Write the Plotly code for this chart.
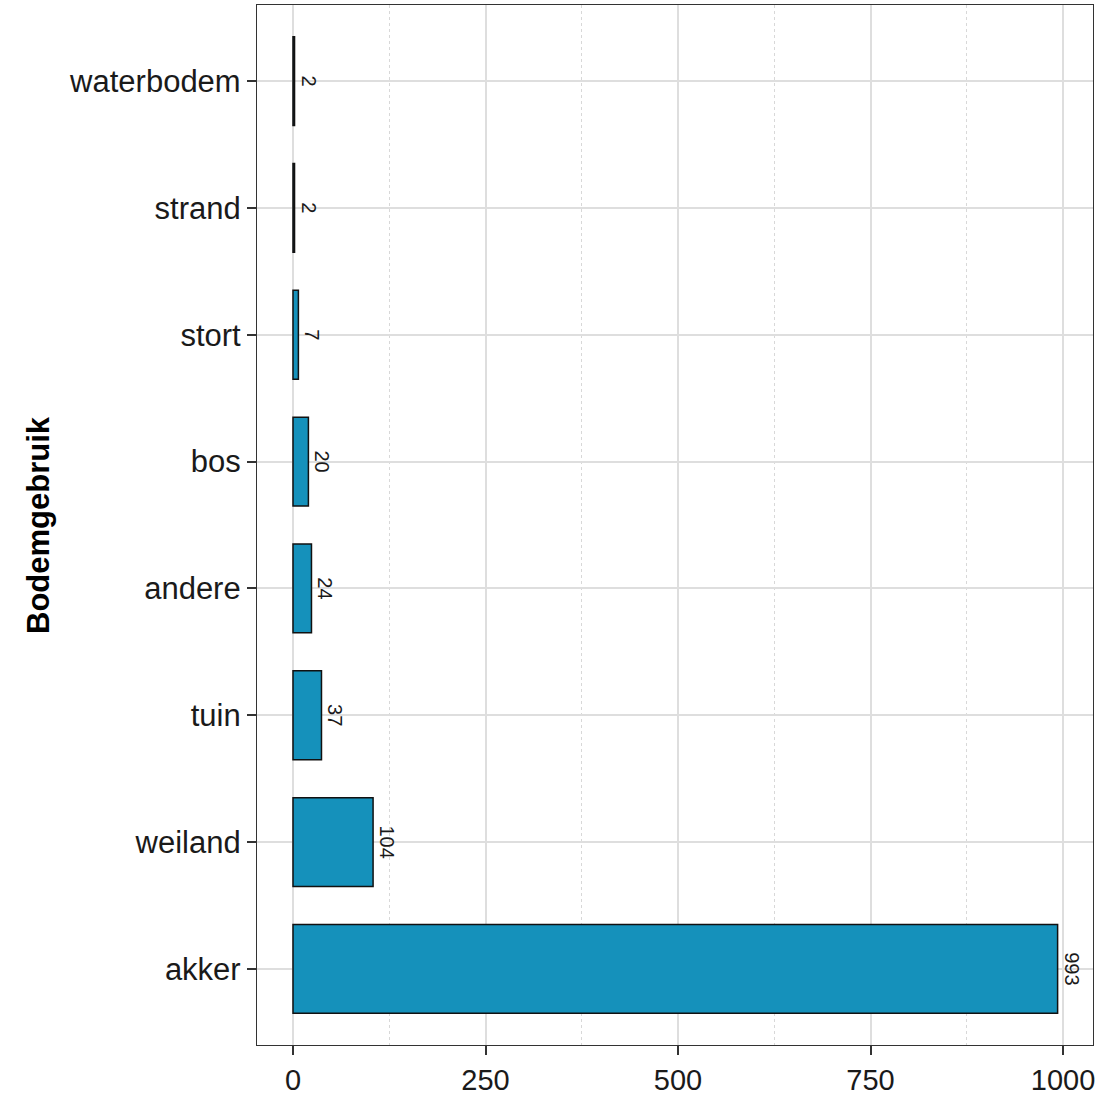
import plotly.graph_objects as go

categories = ["akker", "weiland", "tuin", "andere", "bos", "stort", "strand", "waterbodem"]
values = [993, 104, 37, 24, 20, 7, 2, 2]
x_ticks = [0, 250, 500, 750, 1000]
y_title = "Bodemgebruik"

FONT = "Liberation Sans, Arial, Helvetica, sans-serif"

fig = go.Figure()
fig.add_trace(go.Bar(
    x=values,
    y=categories,
    orientation="h",
    width=0.7,
    marker=dict(color="#1591BB", line=dict(color="#111111", width=1.5)),
    text=[str(v) for v in values],
    textposition="outside",
    textangle=90,
    constraintext="none",
    cliponaxis=False,
    textfont=dict(family=FONT, size=20, color="#1a1a1a"),
    hoverinfo="skip",
))

fig.update_layout(
    width=1104,
    height=1095,
    margin=dict(l=257, r=11, t=5, b=50, autoexpand=False),
    paper_bgcolor="white",
    plot_bgcolor="white",
    showlegend=False,
    font=dict(family=FONT, color="#1a1a1a"),
)

fig.update_xaxes(
    automargin=False,
    range=[-46.75, 1038.96],
    tickvals=x_ticks,
    ticktext=[str(t) for t in x_ticks],
    tickfont=dict(family=FONT, size=29, color="#1a1a1a"),
    ticks="outside", ticklen=9, tickwidth=1.5, tickcolor="#333333",
    showgrid=True, gridcolor="#DEDEDE", gridwidth=2,
    minor=dict(tickvals=[125, 375, 625, 875], showgrid=True, griddash="dot",
               gridcolor="#D8D8D8", gridwidth=1, ticks=""),
    zeroline=False,
    showline=True, linecolor="#333333", linewidth=1.2, mirror=True,
)

fig.update_yaxes(
    automargin=False,
    categoryorder="array",
    categoryarray=categories,
    range=[-0.6, 7.6],
    tickfont=dict(family=FONT, size=31, color="#1a1a1a"),
    ticks="outside", ticklen=9, tickwidth=1.5, tickcolor="#333333",
    showgrid=True, gridcolor="#DEDEDE", gridwidth=2,
    zeroline=False,
    showline=True, linecolor="#333333", linewidth=1.2, mirror=True,
)

fig.add_annotation(
    text="<b>" + y_title + "</b>",
    xref="paper", yref="paper",
    x=(38 - 257) / 836, y=0.5,
    xanchor="center", yanchor="middle",
    textangle=-90,
    showarrow=False,
    font=dict(family=FONT, size=31, color="#000000"),
)

fig.write_html("out.html", config={"displayModeBar": False},
               post_script="document.body.style.margin='0px';document.body.style.padding='0px';")
